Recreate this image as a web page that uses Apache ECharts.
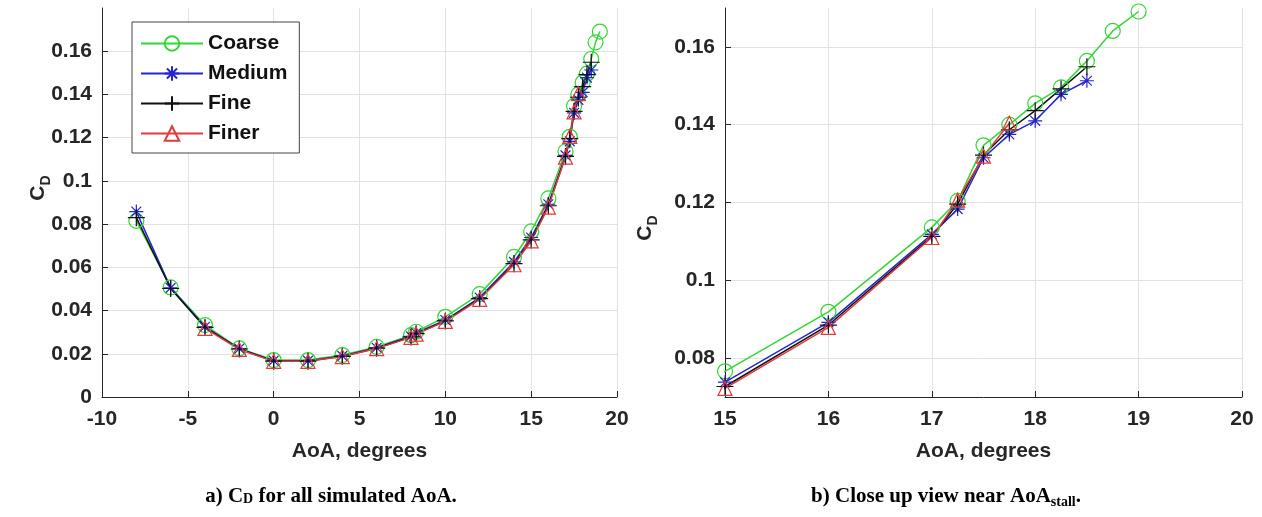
<!DOCTYPE html>
<html><head><meta charset="utf-8">
<script src="https://cdn.jsdelivr.net/npm/echarts@6/dist/echarts.min.js"></script>
<style>html,body{margin:0;padding:0;background:#fff}#c{width:1262px;height:517px}</style>
</head><body><div id="c"></div>
<script>
// ---- data ----
const seriesNames = ['Coarse', 'Medium', 'Fine', 'Finer'];
const aoaCoarse = [-8, -6, -4, -2, 0, 2, 4, 6, 8, 8.3, 10, 12, 14, 15, 16, 17, 17.25, 17.5, 17.75, 18, 18.25, 18.5, 18.75, 19];
const cdCoarse  = [0.0815, 0.0507, 0.0333, 0.0225, 0.0171, 0.0171, 0.0194, 0.0232, 0.0286, 0.0302, 0.0371, 0.0476, 0.0648, 0.0766, 0.0919, 0.1136, 0.1204, 0.1347, 0.1400, 0.1455, 0.1496, 0.1564, 0.1641, 0.1691];
const aoaMedium = [-8, -6, -4, -2, 0, 2, 4, 6, 8, 8.3, 10, 12, 14, 15, 16, 17, 17.25, 17.5, 17.75, 18, 18.25, 18.5];
const cdMedium  = [0.0858, 0.0505, 0.0325, 0.0224, 0.0168, 0.0168, 0.0190, 0.0228, 0.0281, 0.0296, 0.0356, 0.0460, 0.0625, 0.0738, 0.0892, 0.1118, 0.1183, 0.1315, 0.1375, 0.1410, 0.1478, 0.1513];
const aoaFine   = [-8, -6, -4, -2, 0, 2, 4, 6, 8, 8.3, 10, 12, 14, 15, 16, 17, 17.25, 17.5, 17.75, 18, 18.25, 18.5];
const cdFine    = [0.0830, 0.0502, 0.0322, 0.0222, 0.0166, 0.0166, 0.0188, 0.0226, 0.0278, 0.0293, 0.0352, 0.0455, 0.0617, 0.0727, 0.0885, 0.1113, 0.1196, 0.1322, 0.1387, 0.1436, 0.1492, 0.1549];
const aoaFiner  = [-4, -2, 0, 2, 4, 6, 8, 8.3, 10, 12, 14, 15, 16, 17, 17.25, 17.5, 17.75];
const cdFiner   = [0.0318, 0.0220, 0.0165, 0.0165, 0.0187, 0.0224, 0.0276, 0.0291, 0.0350, 0.0452, 0.0612, 0.0722, 0.0879, 0.1110, 0.1206, 0.1319, 0.1404];
const yTicksLeft  = [0, 0.02, 0.04, 0.06, 0.08, 0.1, 0.12, 0.14, 0.16];
const yTicksRight = [0.08, 0.1, 0.12, 0.14, 0.16];
const xLabel = 'AoA, degrees';
const yLabelMain = 'C', yLabelSub = 'D';
const captionA = ['a) C', 'D', ' for all simulated AoA.'];
const captionB = ['b) Close up view near AoA', 'stall', '.'];

// ---- styling ----
const FONT = "'Liberation Sans', Arial, Helvetica, sans-serif";
const SERIF = "'Liberation Serif', 'Times New Roman', serif";
const AX = '#262626';
const GRIDC = '#e2e2e2';
const colors = { Coarse: '#33d633', Medium: '#2525cc', Fine: '#111111', Finer: '#e03a3a' };
const symbols = {
  Coarse: 'circle',
  Medium: 'path://M10 0V20M0 10H20M3 3L17 17M17 3L3 17',
  Fine: 'path://M10 0V20M0 10H20',
  Finer: 'triangle'
};
const symSizes = { Coarse: 15, Medium: 14, Fine: 17, Finer: 14 };
const dataSets = {
  Coarse: [aoaCoarse, cdCoarse], Medium: [aoaMedium, cdMedium],
  Fine: [aoaFine, cdFine], Finer: [aoaFiner, cdFiner]
};

function pairs(xs, ys) { return xs.map((x, i) => [x, ys[i]]); }
function fmt(v) { return String(+v.toFixed(3)); }

function xAxis(gridIndex, min, max, interval) {
  return {
    type: 'value', gridIndex, min, max, interval,
    axisLine: { show: true, onZero: false, lineStyle: { color: AX, width: 1 } },
    axisTick: { show: true, inside: true, length: 6, lineStyle: { color: AX } },
    axisLabel: { color: AX, fontFamily: FONT, fontWeight: 'bold', fontSize: 21, margin: 12, formatter: fmt },
    splitLine: { show: true, lineStyle: { color: GRIDC, width: 1 } },
    name: xLabel, nameLocation: 'middle', nameGap: 44,
    nameTextStyle: { color: AX, fontFamily: FONT, fontWeight: 'bold', fontSize: 21 }
  };
}
function yAxis(gridIndex, min, max, ticks) {
  return {
    type: 'value', gridIndex, min, max,
    axisLine: { show: true, onZero: false, lineStyle: { color: AX, width: 1 } },
    axisTick: { show: true, inside: true, length: 6, lineStyle: { color: AX }, customValues: ticks },
    axisLabel: { color: AX, fontFamily: FONT, fontWeight: 'bold', fontSize: 21, margin: 10, formatter: fmt, customValues: ticks },
    splitLine: { show: true, lineStyle: { color: GRIDC, width: 1 } }
  };
}

const series = [];
[0, 1].forEach(g => {
  seriesNames.forEach(name => {
    const c = colors[name];
    series.push({
      type: 'line', name, xAxisIndex: g, yAxisIndex: g,
      data: pairs(dataSets[name][0], dataSets[name][1]),
      symbol: symbols[name], symbolSize: symSizes[name], showAllSymbol: true,
      lineStyle: { color: c, width: 1.5 },
      itemStyle: { color: 'transparent', borderColor: c, borderWidth: 1.2 },
      emphasis: { disabled: true }, animation: false
    });
  });
});

function ylabelGraphic(x, y) {
  return {
    type: 'text', x, y, rotation: Math.PI / 2,
    style: {
      text: '{c|' + yLabelMain + '}{d|' + yLabelSub + '}',
      align: 'center', verticalAlign: 'middle',
      rich: {
        c: { fontFamily: FONT, fontWeight: 'bold', fontSize: 21, lineHeight: 22, fill: AX, verticalAlign: 'top' },
        d: { fontFamily: FONT, fontWeight: 'bold', fontSize: 14, lineHeight: 14, padding: [11, 0, 0, 0], fill: AX, verticalAlign: 'top' }
      }
    }
  };
}
function captionGraphic(x, y, parts, subDrop) {
  return {
    type: 'text', x, y,
    style: {
      text: '{n|' + parts[0] + '}{s|' + parts[1] + '}{n|' + parts[2] + '}',
      align: 'center', verticalAlign: 'middle',
      rich: {
        n: { fontFamily: SERIF, fontWeight: 'bold', fontSize: 21, lineHeight: 24, fill: '#000', verticalAlign: 'top' },
        s: { fontFamily: SERIF, fontWeight: 'bold', fontSize: 14, lineHeight: 14, padding: [subDrop, 0, 0, 0], fill: '#000', verticalAlign: 'top' }
      }
    }
  };
}

const chart = echarts.init(document.getElementById('c'), null, { renderer: 'canvas' });
chart.setOption({
  backgroundColor: '#fff',
  animation: false,
  grid: [
    { left: 102, top: 8, width: 515, height: 389 },
    { left: 725, top: 8, width: 517, height: 389 }
  ],
  xAxis: [xAxis(0, -10, 20, 5), xAxis(1, 15, 20, 1)],
  yAxis: [yAxis(0, 0, 0.18, yTicksLeft), yAxis(1, 0.07, 0.17, yTicksRight)],
  legend: {
    data: seriesNames, orient: 'vertical', left: 132, top: 22,
    padding: [11, 12, 9, 8], itemWidth: 62, itemHeight: 18, itemGap: 9,
    borderColor: '#444', borderWidth: 1, backgroundColor: '#fff',
    selectedMode: false,
    textStyle: { fontFamily: FONT, fontWeight: 'bold', fontSize: 21, color: '#111' }
  },
  graphic: [
    ylabelGraphic(39, 188),
    ylabelGraphic(646, 228),
    captionGraphic(331, 498, captionA, 6),
    captionGraphic(946, 498, captionB, 9)
  ],
  series
});
</script></body></html>
